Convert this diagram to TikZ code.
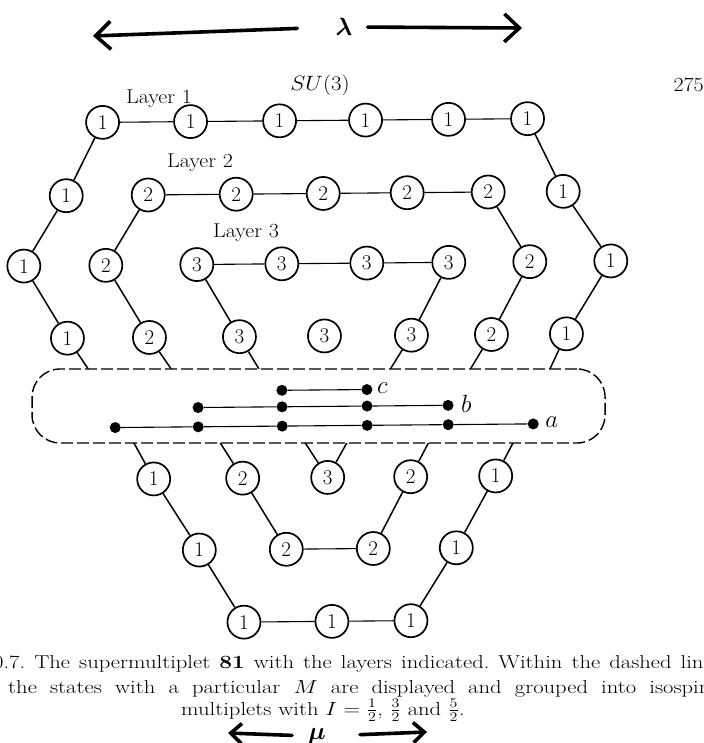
\documentclass[tikz,border=0pt]{standalone}
\usepackage{graphicx}
\usepackage{bm}
\usetikzlibrary{arrows.meta}
\newcommand\widen[1]{\scalebox{1.1}[1]{#1}}
\newcommand\capwide[1]{\scalebox{1.33}[1.1]{#1}}
\tikzset{
  wt/.style={circle,draw,line width=1.7pt,minimum size=33pt,inner sep=0pt,
             font=\fontsize{21}{21}\selectfont},
  st/.style={circle,fill,inner sep=0pt,minimum size=11pt},
  link/.style={line width=1.5pt},
  hlink/.style={line width=1.1pt},
  tag/.style={inner sep=0pt,font=\fontsize{20}{20}\selectfont},
  mlabel/.style={inner sep=0pt,anchor=west,font=\fontsize{24}{24}\selectfont},
  hand/.style={line width=3.6pt,line cap=round,line join=round},
  capline/.style={inner sep=0pt,font=\fontsize{17}{17}\selectfont\frenchspacing},
  bigbarb/.style={-{Straight Barb[length=15pt,width=28pt]}},
  smallbarb/.style={-{Straight Barb[length=11pt,width=20pt]}},
  greek/.style={inner sep=0pt,font=\fontsize{#1}{#1}\selectfont},
}
\begin{document}
\begin{tikzpicture}[x=1pt,y=-1pt]
\useasboundingbox (0,0) rectangle (703,743);
\fill[white] (0,0) rectangle (703,743);
\clip (0,0) rectangle (703,743);

\begin{scope}[rotate around={0.5:(318,400)}]
% row 1
\node[wt] (n11) at (105,120.5) {1};
\node[wt] (n12) at (193,120.5) {1};
\node[wt] (n13) at (282,120.5) {1};
\node[wt] (n14) at (368,120.5) {1};
\node[wt] (n15) at (451,120.5) {1};
\node[wt] (n16) at (530,120.5) {1};
% row 2
\node[wt] (n21) at (68,193.5) {1};
\node[wt] (n22) at (150,193.5) {2};
\node[wt] (n23) at (238,193.5) {2};
\node[wt] (n24) at (325,193.5) {2};
\node[wt] (n25) at (409,193.5) {2};
\node[wt] (n26) at (490,193.5) {2};
\node[wt] (n27) at (565,193.5) {1};
% row 3
\node[wt] (n31) at (25,263.5) {1};
\node[wt] (n32) at (107,263.5) {2};
\node[wt] (n33) at (198,263.5) {3};
\node[wt] (n34) at (283,263.5) {3};
\node[wt] (n35) at (368,263.5) {3};
\node[wt] (n36) at (450,263.5) {3};
\node[wt] (n37) at (531,263.5) {2};
\node[wt] (n38) at (612,263.5) {1};
% row 4
\node[wt] (n41) at (68,336) {1};
\node[wt] (n42) at (150,336) {2};
\node[wt] (n43) at (240,336) {3};
\node[wt] (n44) at (325,336) {3};
\node[wt] (n45) at (412,336) {3};
\node[wt] (n46) at (492,336) {2};
\node[wt] (n47) at (567,336) {1};
% row 5 lattice points (covered by the M-box)
\coordinate (p1) at (115,407);
\coordinate (p2) at (198,407);
\coordinate (p3) at (282,407);
\coordinate (p4) at (367,407);
\coordinate (p5) at (448,407);
\coordinate (p6) at (533,407);
% row 6
\node[wt] (n61) at (153,477.5) {1};
\node[wt] (n62) at (242,477.5) {2};
\node[wt] (n63) at (327,477.5) {3};
\node[wt] (n64) at (410,477.5) {2};
\node[wt] (n65) at (495,477.5) {1};
% row 7
\node[wt] (n71) at (198,549) {1};
\node[wt] (n72) at (285,549) {2};
\node[wt] (n73) at (372,549) {2};
\node[wt] (n74) at (455,549) {1};
% row 8
\node[wt] (n81) at (242,621.5) {1};
\node[wt] (n82) at (330,621.5) {1};
\node[wt] (n83) at (409,621.5) {1};

% horizontal links
\draw[hlink] (n11) -- (n12) -- (n13) -- (n14) -- (n15) -- (n16);
\draw[hlink] (n22) -- (n23) -- (n24) -- (n25) -- (n26);
\draw[hlink] (n33) -- (n34) -- (n35) -- (n36);
\draw[hlink] (n72) -- (n73);
\draw[hlink] (n81) -- (n82) -- (n83);

% layer 1
\draw[link] (n11) -- (n21); \draw[link] (n21) -- (n31); \draw[link] (n31) -- (n41);
\draw[link] (n41) -- (p1);  \draw[link] (p1) -- (n61);  \draw[link] (n61) -- (n71);
\draw[link] (n71) -- (n81);
\draw[link] (n83) -- (n74); \draw[link] (n74) -- (n65); \draw[link] (n65) -- (p6);
\draw[link] (p6) -- (n47);  \draw[link] (n47) -- (n38); \draw[link] (n38) -- (n27);
\draw[link] (n27) -- (n16);
% layer 2
\draw[link] (n22) -- (n32); \draw[link] (n32) -- (n42); \draw[link] (n42) -- (p2);
\draw[link] (p2) -- (n62);  \draw[link] (n62) -- (n72);
\draw[link] (n73) -- (n64); \draw[link] (n64) -- (p5);  \draw[link] (p5) -- (n46);
\draw[link] (n46) -- (n37); \draw[link] (n37) -- (n26);
% layer 3
\draw[link] (n33) -- (n43); \draw[link] (n43) -- (p3); \draw[link] (p3) -- (n63);
\draw[link] (n36) -- (n45); \draw[link] (n45) -- (p4); \draw[link] (p4) -- (n63);

% the dashed region with the states of one M
\node[draw,fill=white,line width=1.4pt,dash pattern=on 12pt off 4pt,
      rounded corners=28pt,minimum width=573pt,minimum height=74pt,inner sep=0pt]
  (box) at (318.5,406) {};

% I = 1/2
\node[st] (c1) at (282,390) {};
\node[st] (c2) at (367,390) {};
% I = 3/2
\node[st] (b1) at (198,406.5) {};
\node[st] (b2) at (282,406.5) {};
\node[st] (b3) at (367,406.5) {};
\node[st] (b4) at (448,406.5) {};
% I = 5/2
\node[st] (a1) at (115,425.8) {};
\node[st] (a2) at (198,425.8) {};
\node[st] (a3) at (282,425.8) {};
\node[st] (a4) at (367,425.8) {};
\node[st] (a5) at (448,425.8) {};
\node[st] (a6) at (533,425.8) {};
\draw[hlink] (c1) -- (c2);
\draw[hlink] (b1) -- (b2) -- (b3) -- (b4);
\draw[hlink] (a1) -- (a2) -- (a3) -- (a4) -- (a5) -- (a6);
\node[mlabel] (lc) at (377,389) {$c$};
\node[mlabel] (lb) at (461,405) {$b$};
\node[mlabel] (la) at (545,424) {$a$};
\end{scope}

% headings
\node[tag] (L1) at (159,99) {\widen{Layer 1}};
\node[tag] (L2) at (200,163) {\widen{Layer 2}};
\node[tag] (L3) at (246,233) {\widen{Layer 3}};
\node[tag] (title) at (320,85) {\widen{$SU(3)$}};
\node[tag,anchor=east] (page) at (704,85) {\widen{275}};

% hand-written lambda with arrows
\node[greek=52] (lam) at (344,27) {$\bm{\lambda}$};
\coordinate (lamL) at (93,36);
\coordinate (lamR) at (522,28);
\draw[hand,bigbarb,shorten <=38pt] (lam.west) -- (lamL);
\draw[hand,bigbarb,shorten <=15pt] (lam.east) -- (lamR);

% caption
\node[capline,anchor=base west] (cap1) at (-7,668)
  {\capwide{\makebox[541pt][s]{0.7. The supermultiplet \textbf{81} with the layers indicated. Within the dashed line}}};
\node[capline,anchor=base west] (cap2) at (8,693)
  {\capwide{\makebox[528pt][s]{the states with a particular $M$ are displayed and grouped into isospin}}};
\node[capline,anchor=base] (cap3) at (323,715)
  {\capwide{multiplets with $I=\frac12$, $\frac32$ and $\frac52$.}};

% hand-written mu with arrows
\node[greek=27] (mu) at (317,736) {$\bm{\mu}$};
\coordinate (muL) at (228,733);
\coordinate (muR) at (427,732);
\draw[hand,smallbarb,shorten <=16pt] (mu.west) -- (muL);
\draw[hand,smallbarb,shorten <=34pt] (mu.east) -- (muR);
\end{tikzpicture}
\end{document}
